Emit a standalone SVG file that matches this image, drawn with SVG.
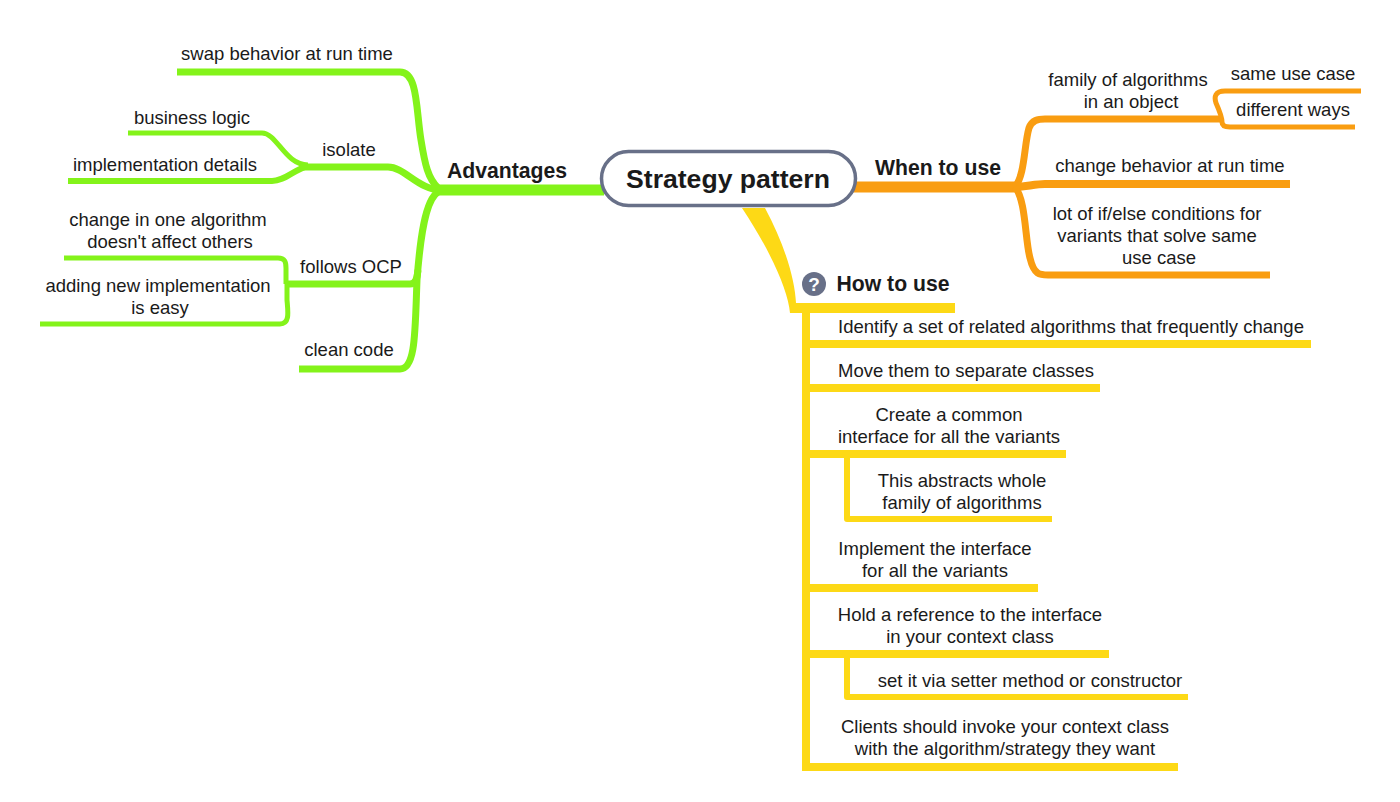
<svg xmlns="http://www.w3.org/2000/svg" width="1400" height="802" viewBox="0 0 1400 802">
<style>
text{font-family:"Liberation Sans",Arial,sans-serif;font-size:18.5px;fill:#1a1a1a;text-anchor:middle}
.h{font-weight:bold;font-size:21.2px}
.t{font-weight:bold;font-size:26.6px}
.q{font-weight:bold;font-size:19px;fill:#fff}
.c{fill:none;stroke-linecap:butt;stroke-linejoin:round}
.g{stroke:#84f31a}.o{stroke:#f99d11}.y{stroke:#fdd916}
.w7{stroke-width:7}.w6{stroke-width:6}.w5{stroke-width:5}.w8{stroke-width:8}
</style>
<rect width="1400" height="802" fill="#fff"/>
<g id="connectors">
<path d="M604,190H436" stroke="#84f31a" stroke-width="11" fill="none"/>
<path class="c g w7" d="M177,72H400C418,72 416,110 421,140C425,165 428,178 438,188"/>
<path class="c g w5" d="M128,133H262C277,133 285,165 308,165"/>
<path class="c g w6" d="M68,181H272C285,181 293,170 308,166"/>
<path class="c g w7" d="M300,167H388C405,167 418,190 442,190"/>
<path class="c g w7" d="M438,192C425,200 420,240 417,280C415,330 416,369 400,369H299"/>
<path class="c g w7" d="M287,284H410C416,284 417,278 418,270"/>
<path class="c g w5" d="M64,258H278C285,258 286,262 286,268V284"/>
<path class="c g w5" d="M40,324H280C290,324 288,312 287,300V284"/>
<path d="M853,187H1015" stroke="#f99d11" stroke-width="11" fill="none"/>
<path class="c o w7" d="M1015,187C1025,175 1024,145 1029,128C1032,120 1038,119 1045,119H1222"/>
<path class="c o w8" d="M1015,187C1025,187 1035,184 1045,184H1290"/>
<path class="c o w7" d="M1015,187C1026,200 1025,240 1030,258C1034,275 1040,275 1048,275H1270"/>
<path class="c o w5" d="M1361,91H1225C1215,91 1214,97 1216,103C1220,112 1222,118 1222,122C1222,126 1225,127 1230,127H1355"/>
<path d="M742,208L765,208C785,245 795,280 796,303L955,303V313H790C788,290 770,250 742,208Z" fill="#fdd916"/>
<path class="c y w8" d="M806,305V770"/>
<path class="c y w8" d="M802,344H1311M802,388H1100M802,454H1066M802,588H1038M802,654H1109M802,767H1178"/>
<path class="c y w6" d="M847,454V519H1052M847,654V697H1188"/>
</g>
<g id="root"><rect x="601.5" y="151.5" width="254" height="54" rx="27" fill="#fff" stroke="#687088" stroke-width="3.5"/><text class="t" x="728" y="188">Strategy pattern</text></g>
<g id="advantages"><text class="h" x="507" y="178">Advantages</text></g>
<g id="swap"><text x="287" y="60">swap behavior at run time</text></g>
<g id="isolate"><text x="349" y="156">isolate</text></g>
<g id="business"><text x="192" y="124">business logic</text></g>
<g id="impl"><text x="165" y="171">implementation details</text></g>
<g id="ocp"><text x="351" y="273">follows OCP</text></g>
<g id="change"><text x="168" y="226">change in one algorithm</text><text x="170" y="248">doesn't affect others</text></g>
<g id="adding"><text x="158" y="292">adding new implementation</text><text x="160" y="314">is easy</text></g>
<g id="clean"><text x="349" y="356">clean code</text></g>
<g id="when"><text class="h" x="938" y="175">When to use</text></g>
<g id="family"><text x="1128" y="86">family of algorithms</text><text x="1131" y="108">in an object</text></g>
<g id="same"><text x="1293" y="80">same use case</text></g>
<g id="ways"><text x="1293" y="116">different ways</text></g>
<g id="behav"><text x="1170" y="172">change behavior at run time</text></g>
<g id="lot"><text x="1157" y="220">lot of if/else conditions for</text><text x="1157" y="242">variants that solve same</text><text x="1159" y="264">use case</text></g>
<g id="how"><circle cx="814" cy="284" r="12" fill="#687088"/><text class="q" x="814" y="291">?</text><text class="h" x="893" y="291">How to use</text></g>
<g id="s1"><text x="1071" y="333">Identify a set of related algorithms that frequently change</text></g>
<g id="s2"><text x="966" y="377">Move them to separate classes</text></g>
<g id="s3"><text x="949" y="421">Create a common</text><text x="949" y="443">interface for all the variants</text></g>
<g id="s3a"><text x="962" y="487">This abstracts whole</text><text x="962" y="509">family of algorithms</text></g>
<g id="s4"><text x="935" y="555">Implement the interface</text><text x="935" y="577">for all the variants</text></g>
<g id="s5"><text x="970" y="621">Hold a reference to the interface</text><text x="970" y="643">in your context class</text></g>
<g id="s5a"><text x="1030" y="687">set it via setter method or constructor</text></g>
<g id="s6"><text x="1005" y="733">Clients should invoke your context class</text><text x="1005" y="755">with the algorithm/strategy they want</text></g>
</svg>
